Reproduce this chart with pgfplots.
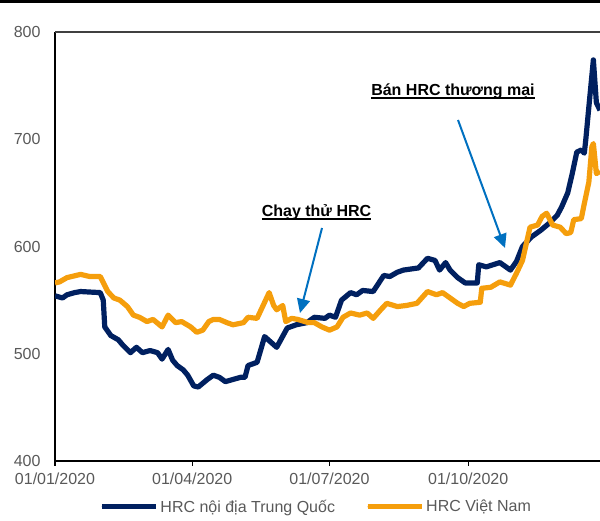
\documentclass[border=0pt]{standalone}
\usepackage{pgfplots}
\pgfplotsset{compat=1.18}
\usepackage{fontspec}
\setmainfont{Liberation Sans}
\usetikzlibrary{arrows.meta}

\definecolor{cnnavy}{RGB}{0,32,96}
\definecolor{vnorange}{RGB}{245,158,12}
\definecolor{arrowblue}{RGB}{0,112,192}
\definecolor{tickgray}{RGB}{89,89,89}
\definecolor{framegray}{RGB}{64,64,64}

% thick underline for the callout labels
\newcommand\thickul[1]{\setbox0\hbox{#1}\rlap{\copy0}\rule[-3pt]{\wd0}{1.6pt}}

% HRC prices, x = days since 01/01/2020
\pgfplotstableread{
day price
0 554
5 552
8 555
13 557
17 558
30 557
32 550
33 525
37 517
42 513
45 508
50 501
54 506
58 501
63 503
68 501
71 495
75 504
78 494
81 489
85 485
88 480
92 470
95 469
101 476
105 480
109 478
113 474
118 476
123 478
126 478
128 489
134 492
139 516
147 506
154 524
160 527
167 529
172 534
179 533
182 536
186 534
190 550
196 557
200 555
204 559
211 558
218 573
222 572
227 576
231 578
241 580
247 589
252 587
255 578
259 585
262 578
267 571
272 566
280 566
281 583
286 581
295 585
302 578
306 586
310 600
316 609
322 615
328 622
333 629
336 637
340 650
343 668
346 688
349 690
351 687
352 700
354 730
355.5 752
357 774
359 734
361.4 727
}\china

\pgfplotstableread{
day price
0 566
3 567
8 571
17 574
23 572
30 572
35 558
39 552
43 550
48 544
52 536
56 534
61 530
65 532
71 525
75 536
80 529
84 530
90 525
94 520
98 522
102 530
105 532
109 532
114 529
118 527
125 529
128 534
134 533
139 548
142 557
145 545
147 541
151 545
153 530
157 533
161 532
168 529
172 529
177 525
182 522
187 525
191 534
196 538
202 536
207 538
211 533
216 541
220 547
227 544
233 545
240 547
247 558
253 555
257 557
262 552
267 547
271 544
275 547
282 548
283 561
289 562
295 567
302 564
306 575
310 587
315 618
320 620
323 628
326 631
330 620
335 618
339 612
342 613
344 625
349 626
351 640
354 660
356 693
357 696
359 668
361.4 670
}\vietnam

\begin{document}
\begin{tikzpicture}
\path[use as bounding box] (0pt,0pt) rectangle (600pt,521pt);
\draw[black, line width=2.8pt] (0pt,519.6pt) -- (600pt,519.6pt);
\begin{axis}[
  at={(55pt,60pt)}, anchor=south west,
  scale only axis, width=545pt, height=429pt,
  xmin=0, xmax=361.4, ymin=400, ymax=800,
  axis x line*=bottom, axis y line*=left,
  axis line style={black, line width=1.6pt, -},
  xtick={0,91,182,274},
  xticklabels={01/01/2020,01/04/2020,01/07/2020,01/10/2020},
  ytick={400,500,600,700,800},
  tick align=outside, major tick length=5pt,
  x tick style={black, line width=1.2pt},
  y tick style={draw=none},
  tick label style={font=\fontsize{16}{19}\selectfont, text=tickgray},
  xticklabel style={yshift=-3pt},
  yticklabel style={xshift=-6pt},
  /pgf/number format/assume math mode=true,
  legend columns=2,
  legend style={at={(0.479,-0.107)}, anchor=center, draw=none, fill=none,
    font=\fontsize{16}{19}\selectfont, text=tickgray,
    /tikz/every even column/.append style={column sep=28pt}},
  legend image code/.code={
    \path (0pt,0pt) -- (54pt,0pt);
    \draw[#1, line cap=round] (2.5pt,0pt) -- (51.5pt,0pt);},
]
\draw[framegray, line width=1.4pt] (rel axis cs:0,1) -- (rel axis cs:1,1);
\addplot[cnnavy, line width=5.2pt, line join=round] table[x=day, y=price] {\china};
\addlegendentry{HRC nội địa Trung Quốc}
\addplot[vnorange, line width=5.2pt, line join=round] table[x=day, y=price] {\vietnam};
\addlegendentry{HRC Việt Nam}
\end{axis}
% callouts
\node[anchor=base, inner sep=0pt, font=\fontsize{16}{19}\selectfont\bfseries] at (316.5pt,304pt) {\thickul{Chạy thử HRC}};
\draw[arrowblue, line width=2pt, -{Triangle[length=14pt,width=13pt]}] (322pt,293pt) -- (300pt,208pt);
\node[anchor=base, inner sep=0pt, font=\fontsize{16}{19}\selectfont\bfseries] at (453pt,425pt) {\thickul{Bán HRC thương mại}};
\draw[arrowblue, line width=2pt, -{Triangle[length=14pt,width=13pt]}] (458pt,401pt) -- (505pt,273pt);
\end{tikzpicture}
\end{document}
